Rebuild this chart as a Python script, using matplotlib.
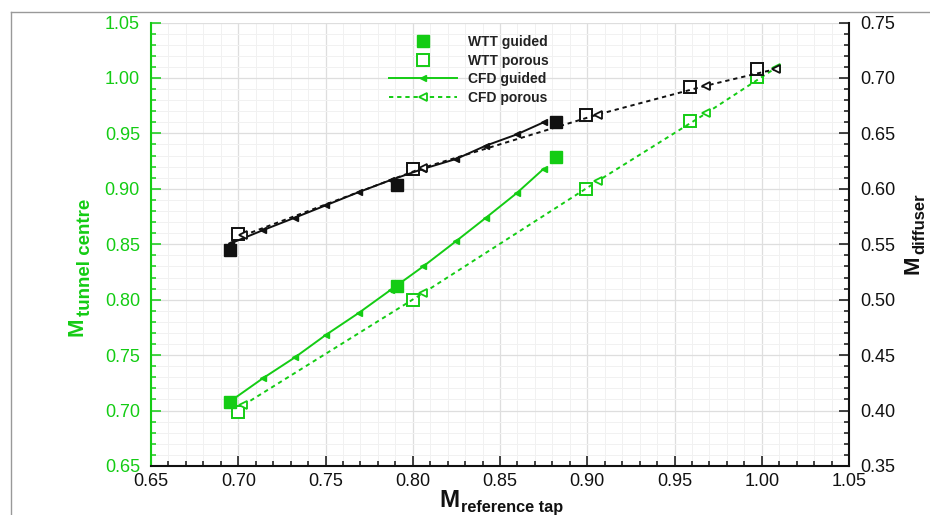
import matplotlib
matplotlib.use("Agg")
import matplotlib.pyplot as plt
from matplotlib.ticker import MultipleLocator, FormatStrFormatter
from matplotlib.lines import Line2D

plt.rcParams['font.family'] = ['Liberation Sans', 'DejaVu Sans']

GREEN = '#14cc14'
BLACK = '#111111'

# ---- data: left axis (M tunnel centre, green) ----
wtt_guided_x = [0.695, 0.791, 0.882]
wtt_guided_tc = [0.708, 0.812, 0.929]
wtt_porous_x = [0.700, 0.800, 0.899, 0.959, 0.997]
wtt_porous_tc = [0.699, 0.800, 0.900, 0.961, 1.001]
cfd_guided_x = [0.696, 0.714, 0.7325, 0.750, 0.769, 0.7875, 0.806, 0.825, 0.842, 0.8595, 0.875]
cfd_guided_tc = [0.709, 0.729, 0.748, 0.768, 0.788, 0.809, 0.830, 0.853, 0.874, 0.896, 0.918]
cfd_porous_x = [0.703, 0.806, 0.906, 0.968, 1.008]
cfd_porous_tc = [0.705, 0.806, 0.907, 0.968, 1.009]

# ---- data: right axis (M diffuser, black) ----
wtt_guided_df = [0.545, 0.603, 0.660]
wtt_porous_df = [0.559, 0.618, 0.667, 0.692, 0.708]
cfd_guided_df = [0.551, 0.5626, 0.574, 0.585, 0.597, 0.608, 0.618, 0.627, 0.639, 0.649, 0.660]
cfd_porous_df = [0.558, 0.619, 0.667, 0.693, 0.708]

x_ticks = [0.65, 0.70, 0.75, 0.80, 0.85, 0.90, 0.95, 1.00, 1.05]
legend_labels = ['WTT guided', 'WTT porous', 'CFD guided', 'CFD porous']

W, H = 930, 515
fig = plt.figure(figsize=(W / 100, H / 100), dpi=100)
L, R, T, B = 151, 849, 22.5, 466
ax = fig.add_axes([L / W, 1 - B / H, (R - L) / W, (B - T) / H])
ax2 = ax.twinx()


def fx(px):
    return px / W


def fy(py):
    return 1 - py / H


# grid
ax.set_axisbelow(True)
ax.grid(which='major', color='#dedede', lw=0.9)
ax.grid(which='minor', color='#f1f1f1', lw=0.7)

lw = 1.4
ms_sq = 8
ms_tri = 5
dash = (2.2, 2.0)

# green (left axis)
ax.plot(cfd_guided_x, cfd_guided_tc, '-', color=GREEN, lw=lw, marker='<',
        ms=ms_tri, mfc=GREEN, mec=GREEN, zorder=3)
ax.plot(cfd_porous_x, cfd_porous_tc, color=GREEN, lw=lw, ls=(0, dash), marker='<',
        ms=ms_tri + 1, mfc='white', mec=GREEN, mew=1.3, zorder=3)
ax.plot(wtt_guided_x, wtt_guided_tc, ls='none', marker='s', ms=ms_sq,
        mfc=GREEN, mec=GREEN, zorder=4)
ax.plot(wtt_porous_x, wtt_porous_tc, ls='none', marker='s', ms=ms_sq,
        mfc='white', mec=GREEN, mew=1.4, zorder=2)

# black (right axis)
ax2.plot(cfd_guided_x, cfd_guided_df, '-', color=BLACK, lw=lw, marker='<',
         ms=ms_tri, mfc=BLACK, mec=BLACK, zorder=3)
ax2.plot(cfd_porous_x, cfd_porous_df, color=BLACK, lw=lw, ls=(0, dash), marker='<',
         ms=ms_tri + 1, mfc='white', mec=BLACK, mew=1.3, zorder=3)
ax2.plot(wtt_guided_x, wtt_guided_df, ls='none', marker='s', ms=ms_sq,
         mfc=BLACK, mec=BLACK, zorder=4)
ax2.plot(wtt_porous_x, wtt_porous_df, ls='none', marker='s', ms=ms_sq,
         mfc='white', mec=BLACK, mew=1.4, zorder=2)

# limits and ticks
ax.set_xlim(0.65, 1.05)
ax.set_ylim(0.65, 1.05)
ax2.set_ylim(0.35, 0.75)
ax.set_xticks(x_ticks)
ax.xaxis.set_major_formatter(FormatStrFormatter('%.2f'))
ax.yaxis.set_major_locator(MultipleLocator(0.05))
ax.yaxis.set_major_formatter(FormatStrFormatter('%.2f'))
ax2.yaxis.set_major_locator(MultipleLocator(0.05))
ax2.yaxis.set_major_formatter(FormatStrFormatter('%.2f'))
ax.xaxis.set_minor_locator(MultipleLocator(0.01))
ax.yaxis.set_minor_locator(MultipleLocator(0.01))
ax2.yaxis.set_minor_locator(MultipleLocator(0.01))

fs = 13
ax.tick_params(axis='x', which='both', direction='in', top=False, colors=BLACK,
               labelsize=fs, pad=5, width=1.1)
ax.tick_params(axis='x', which='major', length=7)
ax.tick_params(axis='x', which='minor', length=3.5)
ax.tick_params(axis='y', which='both', direction='in', right=False, colors=GREEN,
               labelsize=fs, pad=8, width=1.1)
ax.tick_params(axis='y', which='major', length=7)
ax.tick_params(axis='y', which='minor', length=3.5)
ax2.tick_params(axis='y', which='both', direction='in', colors=BLACK,
                labelsize=fs, pad=8, width=1.1)
ax2.tick_params(axis='y', which='major', length=7)
ax2.tick_params(axis='y', which='minor', length=3.5)

for a in (ax, ax2):
    a.spines['top'].set_visible(False)
ax.spines['left'].set_color(GREEN)
ax.spines['left'].set_linewidth(1.5)
ax.spines['bottom'].set_color(BLACK)
ax.spines['bottom'].set_linewidth(1.5)
ax2.spines['right'].set_color(BLACK)
ax2.spines['right'].set_linewidth(1.5)
ax2.spines['left'].set_visible(False)
ax2.spines['bottom'].set_visible(False)
ax.spines['right'].set_visible(False)

# axis labels: main letter + subscript composed as separate texts
# x label
fig.text(fx(459), fy(507), 'M', fontsize=17.5, fontweight='bold', color=BLACK,
         ha='right', va='baseline')
fig.text(fx(461), fy(512), 'reference tap', fontsize=11.7, fontweight='bold',
         color=BLACK, ha='left', va='baseline')
# left label (rotated)
fig.text(fx(82), fy(318), 'M', fontsize=16, fontweight='bold', color=GREEN,
         rotation=90, rotation_mode='anchor', ha='right', va='baseline')
fig.text(fx(90), fy(316), 'tunnel centre', fontsize=13.5, fontweight='bold',
         color=GREEN, rotation=90, rotation_mode='anchor', ha='left', va='baseline')
# right label (rotated)
fig.text(fx(918), fy(256), 'M', fontsize=16, fontweight='bold', color=BLACK,
         rotation=90, rotation_mode='anchor', ha='right', va='baseline')
fig.text(fx(924), fy(254), 'diffuser', fontsize=12, fontweight='bold',
         color=BLACK, rotation=90, rotation_mode='anchor', ha='left', va='baseline')

# legend
handles = [
    Line2D([], [], ls='none', marker='s', ms=ms_sq, mfc=GREEN, mec=GREEN),
    Line2D([], [], ls='none', marker='s', ms=ms_sq, mfc='white', mec=GREEN, mew=1.4),
    Line2D([], [], ls='-', color=GREEN, lw=lw, marker='<', ms=ms_tri, mfc=GREEN, mec=GREEN),
    Line2D([], [], ls=(0, dash), color=GREEN, lw=lw, marker='<', ms=ms_tri + 1,
           mfc='white', mec=GREEN, mew=1.3),
]
leg = ax2.legend(handles, legend_labels, loc='upper left',
                 bbox_to_anchor=(fx(389), fy(35)), bbox_transform=fig.transFigure,
                 frameon=False, prop={'weight': 'bold', 'size': 10}, handlelength=4.9,
                 handletextpad=0.8, labelspacing=0.33, borderpad=0, borderaxespad=0,
                 numpoints=1)
for t in leg.get_texts():
    t.set_color('#222222')

# image border
fig.add_artist(Line2D([fx(10.7), fx(10.7)], [0, fy(12.3)], transform=fig.transFigure,
                      color='#999999', lw=1.0))
fig.add_artist(Line2D([fx(10.7), 1], [fy(12.3), fy(12.3)], transform=fig.transFigure,
                      color='#999999', lw=1.0))

fig.savefig('out.png', dpi=100)
